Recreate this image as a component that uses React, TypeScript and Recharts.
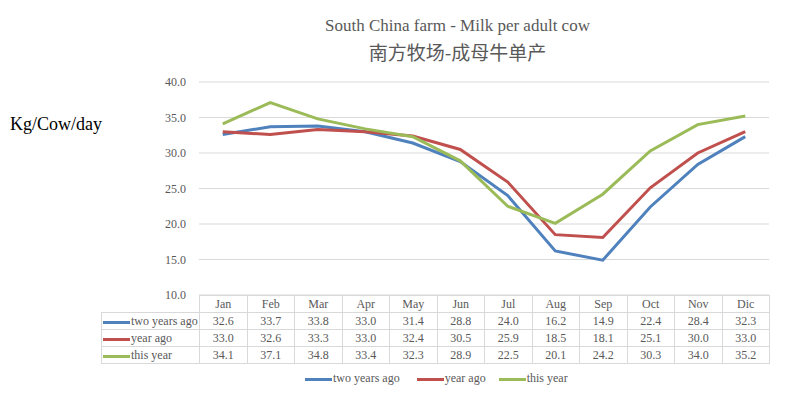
import { CartesianGrid, Line, LineChart, XAxis, YAxis } from "recharts";

const months = ["Jan", "Feb", "Mar", "Apr", "May", "Jun", "Jul", "Aug", "Sep", "Oct", "Nov", "Dic"];
const twoYearsAgo = [32.6, 33.7, 33.8, 33.0, 31.4, 28.8, 24.0, 16.2, 14.9, 22.4, 28.4, 32.3];
const yearAgo = [33.0, 32.6, 33.3, 33.0, 32.4, 30.5, 25.9, 18.5, 18.1, 25.1, 30.0, 33.0];
const thisYear = [34.1, 37.1, 34.8, 33.4, 32.3, 28.9, 22.5, 20.1, 24.2, 30.3, 34.0, 35.2];
const yTicks = [10, 15, 20, 25, 30, 35, 40];

const series = [
  { key: "twoYearsAgo", name: "two years ago", color: "#4F81BD", values: twoYearsAgo },
  { key: "yearAgo", name: "year ago", color: "#C0504D", values: yearAgo },
  { key: "thisYear", name: "this year", color: "#9BBB59", values: thisYear },
];

const data = months.map((m, i) => ({
  month: m,
  twoYearsAgo: twoYearsAgo[i],
  yearAgo: yearAgo[i],
  thisYear: thisYear[i],
}));

const serif = "Liberation Serif, Times New Roman, serif";
const grey = "#595959";
const border = "#D9D9D9";

// plot / table geometry
const plotLeft = 199;
const plotRight = 769;
const plotTop = 82;
const plotBottom = 295;
const colW = (plotRight - plotLeft) / months.length;
const rowH = 17;
const labelLeft = 101;

function Cell({ x, y, w, text, children }: { x: number; y: number; w: number; text?: string; children?: any }) {
  return (
    <div
      style={{
        position: "absolute",
        left: x,
        top: y,
        width: w + 1,
        height: rowH + 1,
        border: `1px solid ${border}`,
        boxSizing: "border-box",
        fontSize: 12,
        lineHeight: `${rowH - 1}px`,
        color: grey,
        textAlign: "center",
        whiteSpace: "nowrap",
        overflow: "hidden",
      }}
    >
      {children ?? text}
    </div>
  );
}

function Key({ color }: { color: string }) {
  return (
    <span
      style={{
        display: "inline-block",
        width: 27,
        height: 3,
        background: color,
        verticalAlign: "middle",
        marginRight: 1,
      }}
    />
  );
}

export default function App() {
  return (
    <div style={{ position: "absolute", left: 0, top: 0, width: 805, height: 399, background: "#fff", fontFamily: serif }}>
      <div style={{ position: "absolute", left: 0, width: 805, top: 16, textAlign: "center", paddingLeft: 110, boxSizing: "border-box", color: grey, fontSize: 17 }}>
        South China farm - Milk per adult cow
      </div>
      <div style={{ position: "absolute", left: 0, width: 805, top: 38, textAlign: "center", paddingLeft: 110, boxSizing: "border-box", color: grey, fontSize: 19, fontFamily: '"Noto Sans CJK SC", sans-serif' }}>
        南方牧场-成母牛单产
      </div>
      <div style={{ position: "absolute", left: 10, top: 114, fontSize: 18, color: "#000" }}>Kg/Cow/day</div>

      <LineChart
        width={805}
        height={399}
        data={data}
        margin={{ top: plotTop, right: 805 - plotRight, bottom: 399 - plotBottom, left: 0 }}
        style={{ position: "absolute", left: 0, top: 0 }}
      >
        <CartesianGrid vertical={false} stroke={border} />
        <XAxis dataKey="month" hide padding={{ left: colW / 2, right: colW / 2 }} />
        <YAxis
          domain={[10, 40]}
          ticks={yTicks}
          width={plotLeft}
          axisLine={false}
          tickLine={false}
          tickMargin={7}
          tickFormatter={(v: number) => v.toFixed(1)}
          tick={{ fontSize: 12, fill: grey, fontFamily: serif }}
        />
        {series.map((s) => (
          <Line
            key={s.key}
            type="linear"
            dataKey={s.key}
            name={s.name}
            stroke={s.color}
            strokeWidth={3}
            dot={false}
            isAnimationActive={false}
          />
        ))}
      </LineChart>

      {months.map((m, i) => (
        <Cell key={m} x={plotLeft + i * colW} y={plotBottom} w={colW} text={m} />
      ))}
      {series.map((s, r) => (
        <div key={s.key}>
          <Cell x={labelLeft} y={plotBottom + (r + 1) * rowH} w={plotLeft - labelLeft}>
            <div style={{ textAlign: "left", paddingLeft: 1 }}>
              <Key color={s.color} />
              {s.name}
            </div>
          </Cell>
          {s.values.map((v, i) => (
            <Cell key={i} x={plotLeft + i * colW} y={plotBottom + (r + 1) * rowH} w={colW} text={v.toFixed(1)} />
          ))}
        </div>
      ))}

      <div style={{ position: "absolute", left: 305, top: 371, display: "flex", fontSize: 12, color: grey }}>
        {series.map((s, i) => (
          <div key={s.key} style={{ marginRight: i === 0 ? 17 : 13, whiteSpace: "nowrap" }}>
            <Key color={s.color} />
            {s.name}
          </div>
        ))}
      </div>
    </div>
  );
}
